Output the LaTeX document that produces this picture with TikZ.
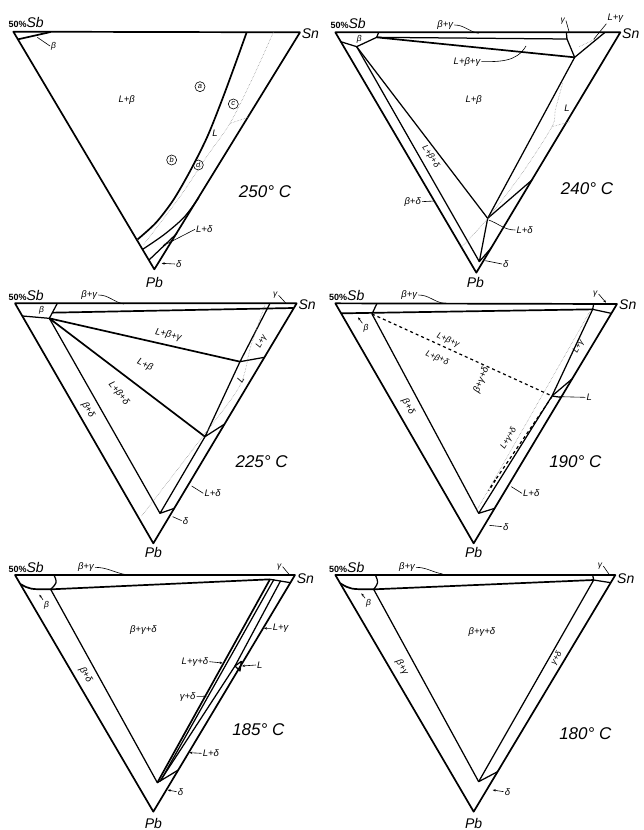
\documentclass[tikz,border=0pt]{standalone}
\usepackage{fontspec}
\setmainfont{Liberation Sans}
\usetikzlibrary{arrows.meta}
\newcommand{\fifty}{{\fontsize{9}{9}\selectfont\bfseries\upshape 50\%}}

\begin{document}
\begin{tikzpicture}[x=1pt,y=-1pt,
  edge/.style={line width=1.7pt,line join=round},
  bnd/.style={line width=1.25pt,line join=round},
  liq/.style={densely dotted,gray,line width=0.5pt},
  tie/.style={dashed,line width=1.2pt},
  lbl/.style={font=\fontsize{9.5}{9.5}\selectfont\itshape,inner sep=1pt},
  sml/.style={font=\fontsize{8.5}{8.5}\selectfont\itshape,inner sep=1pt},
  temp/.style={font=\fontsize{17}{17}\selectfont\itshape},
  elem/.style={font=\fontsize{14}{14}\selectfont\itshape,inner sep=1pt},
  circ/.style={draw,circle,line width=0.6pt,inner sep=0.5pt,minimum size=10pt,font=\fontsize{7.5}{7.5}\selectfont\itshape},
  lead/.style={line width=0.6pt,-{Stealth[length=3pt,width=2.4pt]}},
  lead0/.style={line width=0.6pt}]
\useasboundingbox (0,0) rectangle (644,830);

% 250 C
\begin{scope}[scale=1/3]
\draw[edge] (40,95) -- (900,97) -- (463,808) -- cycle;
\draw[edge] (54,118) -- (152,96);
\draw[edge] plot[smooth] coordinates {(740,97) (703,200) (666,300) (622,410) (572,510) (520,600) (468,668) (413,718)};
\draw[bnd] plot[smooth] coordinates {(428,748) (492,704) (552,652) (597,592)};
\draw[bnd] (447,780) -- (531,700);
\draw[liq] plot[smooth] coordinates {(820,97) (760,230) (690,370) (620,470) (540,590) (430,735)};
\draw[liq] (690,370) -- (745,352);
\node[circ] (Aa) at (600,260) {a};
\node[circ] (Ac) at (700,312) {c};
\node[circ] (Ab) at (515,480) {b};
\node[circ] (Ad) at (595,495) {d};
\node[lbl] (ALb) at (380,300) {L+β};
\node[lbl] (AL) at (645,400) {L};
\node[sml,anchor=west] (Abeta) at (150,138) {β};
\draw[lead0] (Abeta.west) -- (112,112);
\node[lbl,anchor=west] (ALd) at (585,688) {L+δ};
\draw[lead] (ALd.west) -- (488,738);
\node[lbl,anchor=west] (Adelta) at (525,792) {δ};
\draw[lead] (Adelta.west) -- (485,790);
\node[temp] (AT) at (795,575) {250°~C};
\node[elem,anchor=south west] (ASb) at (22,88) {\fifty Sb};
\node[elem,anchor=west] (ASn) at (902,100) {Sn};
\node[elem] (APb) at (463,846) {Pb};
\end{scope}

% 240 C
\begin{scope}[shift={(322,0)},scale=1/3]
\draw[edge] (40,97) -- (895,97) -- (463,818) -- cycle;
\draw[bnd] (56,125) -- (104,140) -- (164,112) -- (170,97);
\draw[bnd] (164,112) -- (735,117);
\draw[edge] (164,112) -- (758,172);
\draw[bnd] (733,97) -- (735,117) -- (758,172) -- (849,97);
\draw[bnd] (104,140) -- (472,785);
\draw[bnd] (104,140) -- (497,655);
\draw[bnd] (758,172) -- (497,655) -- (630,540);
\draw[bnd] (497,655) -- (472,785) -- (509,742);
\draw[liq] plot[smooth] coordinates {(722,250) (700,330) (690,380) (600,520) (497,655) (415,745)};
\draw[liq] (690,380) -- (745,365);
\draw[liq] (772,140) -- (818,118);
\node[sml] (Bb) at (112,118) {β};
\node[lbl] (Bbg) at (370,75) {β+γ};
\draw[lead0] (Bbg.east) to[out=0,in=170] (470,100);
\node[sml] (Bg) at (722,62) {γ};
\draw[lead0] (Bg.east) -- (742,98);
\node[lbl] (BLg) at (880,55) {L+γ};
\draw[lead0] (BLg.south west) -- (815,118);
\node[lbl] (BLbg) at (435,185) {L+β+γ};
\draw[lead0] (BLbg.east) to[out=0,in=240] (612,138);
\node[lbl] (BLb) at (455,300) {L+β};
\node[lbl] (BL) at (735,325) {L};
\node[sml,rotate=-57] (BLbd) at (326,470) {L+β+δ};
\node[lbl,anchor=east] (Bbd) at (300,605) {β+δ};
\draw[lead0] (Bbd.east) -- (338,603);
\node[lbl,anchor=west] (BLd) at (580,690) {L+δ};
\draw[lead0] (BLd.west) to[out=180,in=-20] (500,660);
\node[lbl,anchor=west] (Bdelta) at (540,792) {δ};
\draw[lead0] (Bdelta.west) -- (490,782);
\node[temp] (BT) at (795,565) {240°~C};
\node[elem,anchor=south west] (BSb) at (22,90) {\fifty Sb};
\node[elem,anchor=west] (BSn) at (897,100) {Sn};
\node[elem] (BPb) at (460,846) {Pb};
\end{scope}

% 225 C
\begin{scope}[shift={(0,280)},scale=1/3]
\draw[edge] (45,70) -- (890,70) -- (460,790) -- cycle;
\draw[bnd] (68,108) -- (148,115) -- (172,70);
\draw[edge] (157,98) -- (880,84);
\draw[bnd] (810,70) -- (720,245) -- (793,232);
\draw[edge] (148,115) -- (720,245);
\draw[bnd] (720,245) -- (615,470) -- (674,432);
\draw[edge] (148,115) -- (615,470);
\draw[bnd] (615,470) -- (480,700) -- (523,685);
\draw[bnd] (148,115) -- (480,700);
\draw[liq] plot[smooth] coordinates {(795,75) (752,200) (718,320) (600,480) (425,708)};
\node[sml] (Cb) at (125,92) {β};
\node[lbl] (Cbg) at (268,45) {β+γ};
\draw[lead0] (Cbg.east) to[out=0,in=170] (372,72);
\node[sml] (Cg) at (826,46) {γ};
\draw[lead0] (Cg.east) -- (858,70);
\node[lbl,rotate=-13] (CLbg) at (505,165) {L+β+γ};
\node[lbl,rotate=-25] (CLb) at (435,255) {L+β};
\node[lbl,rotate=-52] (CLbd) at (356,340) {L+β+δ};
\node[lbl,rotate=-60] (Cbd) at (264,390) {β+δ};
\node[sml,rotate=62] (CLg) at (785,185) {L+γ};
\node[lbl,rotate=60] (CL) at (722,300) {L};
\node[lbl,anchor=west] (CLd) at (610,640) {L+δ};
\draw[lead0] (CLd.west) -- (575,618);
\node[lbl,anchor=west] (Cdelta) at (545,722) {δ};
\draw[lead0] (Cdelta.west) -- (518,710);
\node[temp] (CT) at (785,545) {225°~C};
\node[elem,anchor=south west] (CSb) at (22,66) {\fifty Sb};
\node[elem,anchor=west] (CSn) at (892,75) {Sn};
\node[elem] (CPb) at (460,818) {Pb};
\end{scope}

% 190 C
\begin{scope}[shift={(322,280)},scale=1/3]
\draw[edge] (40,70) -- (885,72) -- (455,790) -- cycle;
\draw[edge] (57,100) -- (812,88);
\draw[bnd] (150,102) -- (165,70);
\draw[bnd] (150,102) -- (470,700) -- (518,685);
\draw[tie] (150,102) -- (690,348);
\draw[bnd] (815,72) -- (812,88) -- (868,100);
\draw[bnd] (812,88) -- (690,348) -- (470,700);
\draw[bnd] (690,348) -- (750,297);
\draw[bnd] (690,348) -- (717,352);
\draw[liq] (805,92) -- (462,695);
\draw[tie] (690,350) -- (520,600);
\draw[tie,line width=1.6pt] (520,600) -- (500,632);
\node[lbl] (Dbg) at (262,45) {β+γ};
\draw[lead0] (Dbg.east) to[out=0,in=170] (365,70);
\node[sml] (Dg) at (820,42) {γ};
\draw[lead] (Dg.east) -- (852,68);
\node[sml] (Db) at (132,145) {β};
\draw[lead] (Db.north west) -- (108,112);
\node[sml,rotate=-24] (DLbg) at (378,180) {L+β+γ};
\node[sml,rotate=-24] (DLbd) at (345,234) {L+β+δ};
\node[lbl,rotate=68] (Dbgd) at (478,300) {β+γ+δ};
\node[lbl,rotate=-60] (Dbd) at (258,380) {β+δ};
\node[sml,rotate=62] (DLg) at (770,200) {L+γ};
\node[lbl,anchor=west] (DL) at (790,352) {L};
\draw[lead0] (DL.west) -- (712,350);
\node[sml,rotate=60] (DLgd) at (560,475) {L+γ+δ};
\node[lbl,anchor=west] (DLd) at (600,640) {L+δ};
\draw[lead0] (DLd.west) -- (568,620);
\node[lbl,anchor=west] (Ddelta) at (540,740) {δ};
\draw[lead0] (Ddelta.west) -- (502,736);
\node[temp] (DT) at (760,545) {190°~C};
\node[elem,anchor=south west] (DSb) at (18,66) {\fifty Sb};
\node[elem,anchor=west] (DSn) at (888,75) {Sn};
\node[elem] (DPb) at (455,818) {Pb};
\end{scope}

% 185 C
\begin{scope}[shift={(0,560)},scale=1/3]
\draw[edge] (45,45) -- (885,45) -- (460,755) -- cycle;
\draw[edge] (61,72) .. controls (90,88) .. (152,88) -- (810,58);
\draw[bnd] (162,45) .. controls (172,68) .. (152,88);
\draw[bnd] (152,88) -- (472,668) -- (535,630);
\draw[edge] (810,58) -- (472,668);
\draw[bnd] (822,58) -- (482,662);
\draw[bnd] (842,62) -- (705,318) -- (480,664);
\draw[bnd] (810,58) -- (871,68);
\draw[bnd] (705,318) -- (724,304) -- (720,333) -- cycle;
\node[lbl,anchor=east] (Ebg) at (285,22) {β+γ};
\draw[lead0] (Ebg.east) to[out=0,in=170] (378,44);
\node[sml] (Eg) at (838,20) {γ};
\draw[lead0] (Eg.east) -- (868,44);
\node[sml] (Eb) at (140,135) {β};
\draw[lead] (Eb.north west) -- (118,104);
\node[lbl] (Ebgd) at (430,210) {β+γ+δ};
\node[lbl,rotate=-60] (Ebd) at (257,345) {β+δ};
\node[lbl,anchor=west] (ELg) at (815,205) {L+γ};
\draw[lead] (ELg.west) -- (792,205);
\node[lbl,anchor=east] (ELgd) at (628,305) {L+γ+δ};
\draw[lead] (ELgd.east) -- (668,309);
\node[lbl,anchor=west] (EL) at (768,315) {L};
\draw[lead] (EL.west) -- (726,318);
\node[lbl,anchor=east] (Egd) at (590,410) {γ+δ};
\draw[lead] (Egd.east) -- (620,410);
\node[lbl,anchor=west] (ELd) at (605,580) {L+δ};
\draw[lead] (ELd.west) -- (568,578);
\node[lbl,anchor=west] (Edelta) at (530,695) {δ};
\draw[lead] (Edelta.west) -- (503,690);
\node[temp] (ET) at (775,510) {185°~C};
\node[elem,anchor=south west] (ESb) at (22,42) {\fifty Sb};
\node[elem,anchor=west] (ESn) at (887,55) {Sn};
\node[elem] (EPb) at (460,790) {Pb};
\end{scope}

% 180 C
\begin{scope}[shift={(322,560)},scale=1/3]
\draw[edge] (40,45) -- (880,45) -- (455,755) -- cycle;
\draw[edge] (55,70) .. controls (85,88) .. (155,88) -- (815,60);
\draw[bnd] (160,45) .. controls (170,68) .. (155,88);
\draw[bnd] (155,88) -- (470,665) -- (527,635);
\draw[bnd] (815,60) -- (470,665);
\draw[bnd] (812,45) -- (815,60) -- (866,68);
\node[lbl,anchor=east] (Fbg) at (282,22) {β+γ};
\draw[lead0] (Fbg.east) to[out=0,in=170] (362,42);
\node[sml] (Fg) at (834,18) {γ};
\draw[lead0] (Fg.east) -- (862,44);
\node[sml] (Fb) at (140,130) {β};
\draw[lead] (Fb.north west) -- (118,100);
\node[lbl] (Fbgd) at (480,215) {β+γ+δ};
\node[lbl,rotate=-60] (Fbg2) at (240,322) {β+γ};
\node[sml,rotate=60] (Fgd) at (704,295) {γ+δ};
\node[lbl,anchor=west] (Fdelta) at (545,695) {δ};
\draw[lead] (Fdelta.west) -- (512,690);
\node[temp] (FT) at (790,520) {180°~C};
\node[elem,anchor=south west] (FSb) at (18,42) {\fifty Sb};
\node[elem,anchor=west] (FSn) at (882,55) {Sn};
\node[elem] (FPb) at (455,790) {Pb};
\end{scope}
\end{tikzpicture}
\end{document}
